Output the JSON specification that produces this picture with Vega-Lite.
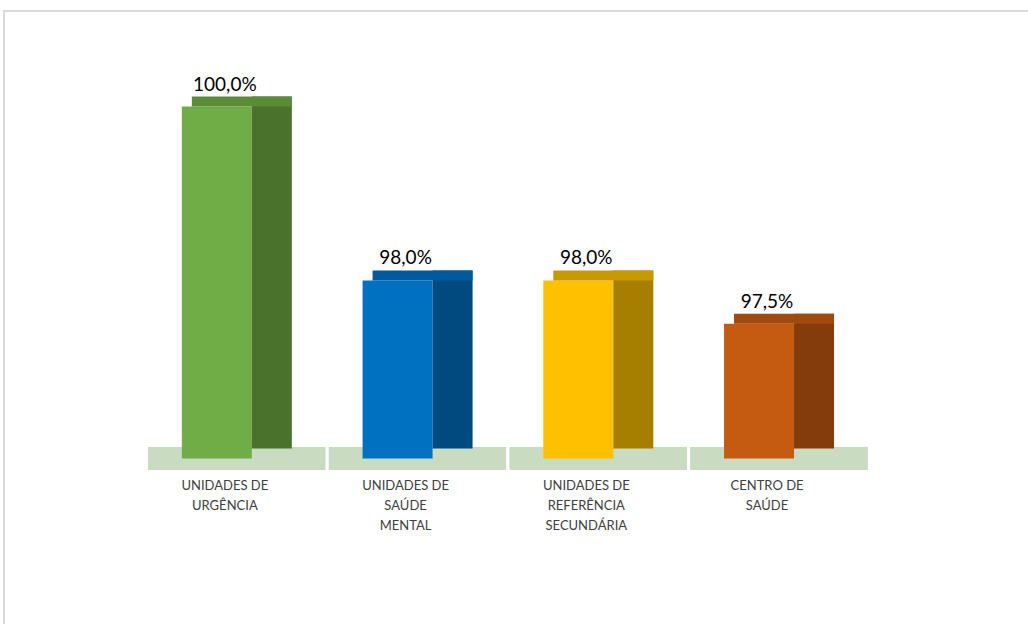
{
  "$schema": "https://vega.github.io/schema/vega-lite/v6.json",
  "width": 1028,
  "height": 624,
  "autosize": {"type": "fit", "contains": "padding"},
  "padding": {"left": 4, "top": 11, "right": -4, "bottom": -4},
  "background": "white",
  "config": {
    "view": {"stroke": "#d9d9d9", "strokeWidth": 2},
    "locale": {"number": {"decimal": ",", "thousands": ".", "grouping": [3], "currency": ["", " €"]}},
    "font": "Lato"
  },
  "data": {
    "values": [
      {"cat": "UNIDADES DE URGÊNCIA", "label": "UNIDADES DE\nURGÊNCIA", "value": 1.0},
      {"cat": "UNIDADES DE SAÚDE MENTAL", "label": "UNIDADES DE\nSAÚDE\nMENTAL", "value": 0.98},
      {"cat": "UNIDADES DE REFERÊNCIA SECUNDÁRIA", "label": "UNIDADES DE\nREFERÊNCIA\nSECUNDÁRIA", "value": 0.98},
      {"cat": "CENTRO DE SAÚDE", "label": "CENTRO DE\nSAÚDE", "value": 0.975}
    ]
  },
  "encoding": {
    "x": {
      "field": "cat", "type": "nominal", "sort": null, "axis": null,
      "scale": {"paddingInner": 0, "paddingOuter": 0.844, "align": 0.467}
    }
  },
  "layer": [
    {
      "mark": {"type": "bar", "color": "#c9dbc1", "stroke": "white", "strokeWidth": 3},
      "encoding": {
        "y": {"datum": 0.961, "type": "quantitative", "scale": {"domain": [0.94, 1.011], "zero": false, "nice": false}, "axis": null},
        "y2": {"datum": 0.958}
      }
    },
    {
      "mark": {"type": "bar", "width": 70, "xOffset": -20},
      "encoding": {
        "y": {"field": "value", "type": "quantitative"},
        "y2": {"datum": 0.9595},
        "color": {"field": "cat", "type": "nominal", "sort": null, "legend": null,
          "scale": {"domain": ["UNIDADES DE URGÊNCIA", "UNIDADES DE SAÚDE MENTAL", "UNIDADES DE REFERÊNCIA SECUNDÁRIA", "CENTRO DE SAÚDE"], "range": ["#70ad47", "#0070c0", "#ffc000", "#c55a11"]}}
      }
    },
    {
      "mark": {"type": "bar", "width": 40, "xOffset": 35, "yOffset": -10, "y2Offset": -10},
      "encoding": {
        "y": {"field": "value", "type": "quantitative"},
        "y2": {"datum": 0.9595},
        "color": {"field": "cat", "type": "nominal", "sort": null, "legend": null,
          "scale": {"domain": ["UNIDADES DE URGÊNCIA", "UNIDADES DE SAÚDE MENTAL", "UNIDADES DE REFERÊNCIA SECUNDÁRIA", "CENTRO DE SAÚDE"], "range": ["#4a722c", "#004a80", "#a67f00", "#843c0c"]}}
      }
    },
    {
      "mark": {"type": "bar", "width": 100, "xOffset": 5, "yOffset": -10},
      "encoding": {
        "y": {"field": "value", "type": "quantitative"},
        "y2": {"field": "value"},
        "color": {"field": "cat", "type": "nominal", "sort": null, "legend": null,
          "scale": {"domain": ["UNIDADES DE URGÊNCIA", "UNIDADES DE SAÚDE MENTAL", "UNIDADES DE REFERÊNCIA SECUNDÁRIA", "CENTRO DE SAÚDE"], "range": ["#5a8c38", "#005a9e", "#c89a00", "#a04a0e"]}}
      }
    },
    {
      "mark": {"type": "text", "fontSize": 19, "color": "#000000", "baseline": "bottom", "dy": -12, "dx": -12},
      "encoding": {
        "y": {"field": "value", "type": "quantitative"},
        "text": {"field": "value", "type": "quantitative", "format": ".1%"}
      }
    },
    {
      "mark": {"type": "text", "fontSize": 13, "color": "#404040", "baseline": "top", "lineBreak": "\n", "lineHeight": 20, "dx": -12},
      "encoding": {
        "y": {"datum": 0.957, "type": "quantitative"},
        "text": {"field": "label"}
      }
    }
  ],
  "resolve": {"scale": {"color": "independent"}}
}
